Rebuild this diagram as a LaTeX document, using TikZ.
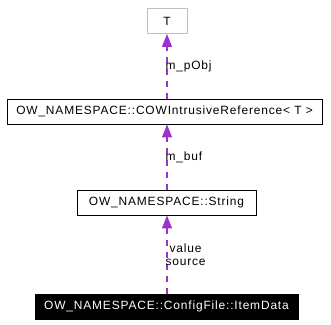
\documentclass[tikz,border=0pt]{standalone}
\usepackage{fontspec}
\setmainfont{Liberation Sans}
\newfontfamily\dotfont[LetterSpace=7]{Liberation Sans}
\usetikzlibrary{arrows.meta,positioning}
\definecolor{edgepurple}{HTML}{9A32CD}
\definecolor{boxgray}{HTML}{BFBFBF}

\begin{document}
\begin{tikzpicture}[x=1bp, y=-1bp,
    every node/.style={font=\dotfont\fontsize{12}{13.5}\selectfont},
    cls/.style={draw=black, fill=white, minimum height=25bp, inner sep=0pt, line width=0.9pt},
    dep/.style={edgepurple, line width=1.1pt, dash pattern=on 6bp off 6bp,
      -{Triangle[length=13bp, width=10bp]}},
    lbl/.style={anchor=west, inner sep=0pt, align=center, xshift=-2bp, text=black}]
  \useasboundingbox (0,0) rectangle (331,325);
  % classes
  \node[cls, draw=boxgray, minimum width=40bp] (T) at (167,21) {T};
  \node[cls, minimum width=315bp] (cow) at (164.5,111.5) {OW\_NAMESPACE::COWIntrusiveReference< T >};
  \node[cls, minimum width=179bp] (str) at (166.5,202.5) {OW\_NAMESPACE::String};
  \node[cls, fill=black, text=white, minimum width=263bp] (item) at (166.5,306.5) {OW\_NAMESPACE::ConfigFile::ItemData};
  % usage edges
  \draw[dep] (cow.north -| T.south) -- node[lbl] {m\_pObj} (T.south);
  \draw[dep] (str.north -| T.south) -- node[lbl] {m\_buf} (cow.south -| T.south);
  \draw[dep] (item.north -| T.south) -- node[lbl] {value\\source} (str.south -| T.south);
\end{tikzpicture}
\end{document}
